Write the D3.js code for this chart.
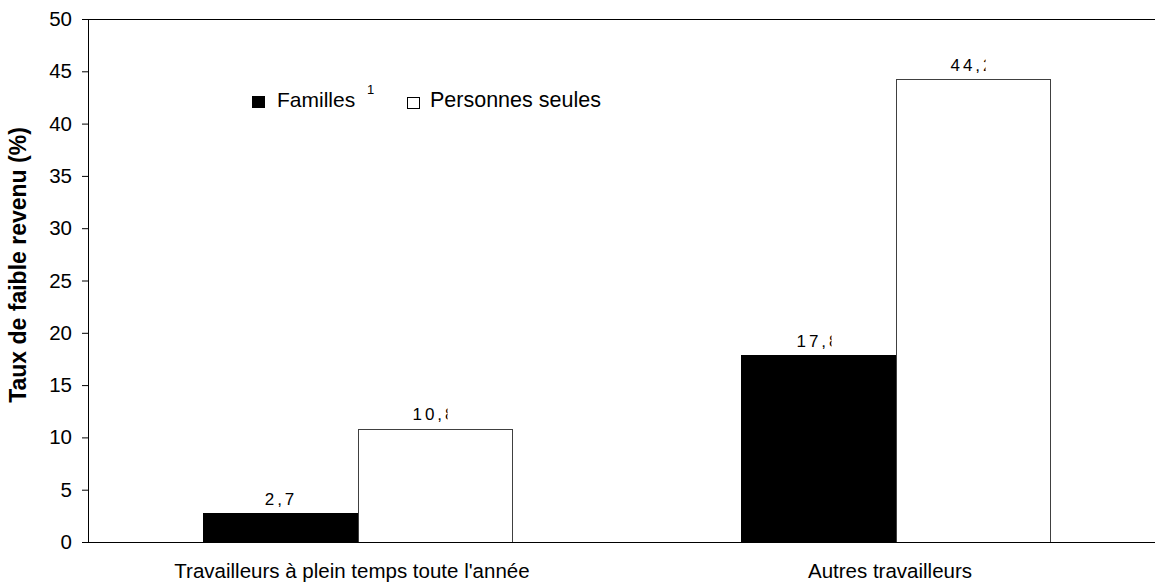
<!DOCTYPE html>
<html>
<head>
<meta charset="utf-8">
<script src="https://cdn.jsdelivr.net/npm/d3@7"></script>
<style>
  html, body { margin: 0; padding: 0; background: #fff; }
  svg { display: block; font-family: "Liberation Sans", Arial, sans-serif; }
</style>
</head>
<body>
<svg id="chart" width="1155" height="585"></svg>
<script>
// Low-income rates by work status
const categories = ["Travailleurs à plein temps toute l'année", "Autres travailleurs"];
const seriesNames = ["Familles", "Personnes seules"];
const familles = [2.7, 17.8];
const personnesSeules = [10.8, 44.2];
const yTicks = [0, 5, 10, 15, 20, 25, 30, 35, 40, 45, 50];
const valueLabels = [["2,7", "17,8"], ["10,8", "44,2"]];

const svg = d3.select("#chart");
const W = 1155, H = 585;
const plot = { left: 88, top: 19, bottom: 542, right: 1165 };

const y = d3.scaleLinear().domain([0, 50]).range([plot.bottom, plot.top]);
const x = d3.scaleBand().domain(categories).range([plot.left + 1, plot.right])
  .paddingInner(0.4275).paddingOuter(0.21375);
const xs = d3.scaleBand().domain(seriesNames).range([0, x.bandwidth()]);

const fills = ["#000000", "#ffffff"];
const strokes = ["#000000", "#404040"];
const seriesValues = [familles, personnesSeules];

// Bars
seriesNames.forEach((s, si) => {
  svg.append("g").selectAll("rect")
    .data(categories)
    .join("rect")
    .attr("x", c => x(c) + xs(s))
    .attr("y", (c, i) => y(seriesValues[si][i]))
    .attr("width", xs.bandwidth())
    .attr("height", (c, i) => y(0) - y(seriesValues[si][i]))
    .attr("fill", fills[si])
    .attr("stroke", strokes[si])
    .attr("stroke-width", 1)
    .attr("shape-rendering", "crispEdges");
});

// Value labels (last glyph trimmed as in the printed chart)
const defs = svg.append("defs");
seriesNames.forEach((s, si) => {
  categories.forEach((c, i) => {
    const cx = x(c) + xs(s) + xs.bandwidth() / 2;
    const cy = y(seriesValues[si][i]) - 9;
    const id = `clip-${si}-${i}`;
    const t = svg.append("text")
      .attr("x", cx)
      .attr("y", cy)
      .attr("text-anchor", "middle")
      .attr("font-size", 17)
      .attr("letter-spacing", 3)
      .attr("fill", "#000")
      .text(valueLabels[si][i]);
    if (si === 1 || i === 1) {
      const bb = t.node().getBBox();
      defs.append("clipPath").attr("id", id)
        .append("rect")
        .attr("x", bb.x - 2).attr("y", bb.y - 2)
        .attr("width", bb.width - 8).attr("height", bb.height + 4);
      t.attr("clip-path", `url(#${id})`);
    }
  });
});

// Y axis
const yAxis = d3.axisLeft(y).tickValues(yTicks).tickSize(6).tickSizeOuter(0).tickPadding(10);
const gy = svg.append("g").attr("transform", `translate(${plot.left},0)`).call(yAxis);
gy.selectAll("text").attr("font-size", 20.5).attr("fill", "#000")
  .attr("font-family", "'Liberation Sans', Arial, sans-serif");
gy.selectAll("line").attr("stroke", "#000");
gy.select(".domain").attr("stroke", "#000");

// X axis baseline and top frame line
const xAxis = d3.axisBottom(x).tickSize(0).tickFormat("");
const gx = svg.append("g").attr("transform", `translate(0,${plot.bottom})`).call(xAxis);
gx.select(".domain").attr("stroke", "#000").attr("d", `M${plot.left},0.5H${W}`);
svg.append("line")
  .attr("x1", plot.left).attr("x2", W)
  .attr("y1", y(50) + 0.5).attr("y2", y(50) + 0.5)
  .attr("stroke", "#000");

// Category labels
svg.append("g").selectAll("text")
  .data(categories)
  .join("text")
  .attr("x", c => x(c) + x.bandwidth() / 2 - 6)
  .attr("y", 578)
  .attr("text-anchor", "middle")
  .attr("font-size", 20.5)
  .attr("fill", "#000")
  .text(c => c);

// Y axis title
svg.append("text")
  .attr("transform", `translate(26,265) rotate(-90)`)
  .attr("text-anchor", "middle")
  .attr("font-size", 23)
  .attr("font-weight", "bold")
  .attr("fill", "#000")
  .text("Taux de faible revenu (%)");

// Legend
const lg = svg.append("g");
lg.append("rect").attr("x", 252).attr("y", 96).attr("width", 13).attr("height", 12)
  .attr("fill", "#000");
lg.append("text").attr("x", 277).attr("y", 107).attr("font-size", 21).attr("fill", "#000")
  .text(seriesNames[0]);
lg.append("text").attr("x", 367).attr("y", 94).attr("font-size", 13).attr("fill", "#000")
  .text("1");
lg.append("rect").attr("x", 407.5).attr("y", 97.5).attr("width", 12).attr("height", 11)
  .attr("fill", "#fff").attr("stroke", "#000");
lg.append("text").attr("x", 430).attr("y", 107).attr("font-size", 21.5).attr("fill", "#000")
  .text(seriesNames[1]);
</script>
</body>
</html>
